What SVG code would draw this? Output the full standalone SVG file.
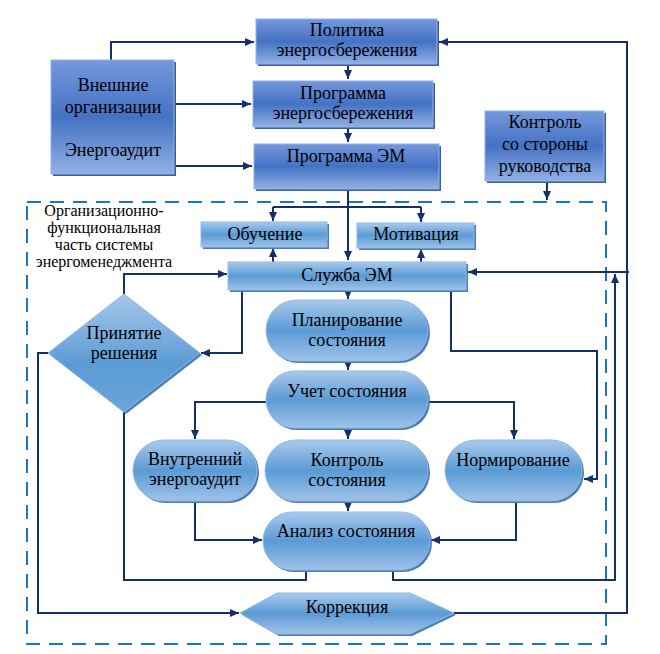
<svg xmlns="http://www.w3.org/2000/svg" width="660" height="654" viewBox="0 0 660 654">
<defs>
<linearGradient id="gDark" x1="0" y1="0" x2="0" y2="1">
<stop offset="0" stop-color="#7598dc"/>
<stop offset="0.5" stop-color="#4472c4"/>
<stop offset="1" stop-color="#92b0e4"/>
</linearGradient>
<linearGradient id="gLight" x1="0" y1="0" x2="0" y2="1">
<stop offset="0" stop-color="#a9c9ec"/>
<stop offset="0.5" stop-color="#5b9bd5"/>
<stop offset="1" stop-color="#9fc2e8"/>
</linearGradient>
<linearGradient id="gDiam" x1="0" y1="0" x2="0" y2="1">
<stop offset="0" stop-color="#a6c7ea"/>
<stop offset="0.6" stop-color="#5b9bd5"/>
<stop offset="1" stop-color="#6aa4da"/>
</linearGradient>
<marker id="arr" markerUnits="userSpaceOnUse" markerWidth="10" markerHeight="10" refX="9" refY="4" orient="auto">
<path d="M0,0 L9,4 L0,8 z" fill="#14306a"/>
</marker>
</defs>
<style>
text{font-family:"Liberation Serif","Times New Roman",serif;font-size:18px;fill:#000;text-anchor:middle}
.org{font-size:16px}
.dark{fill:url(#gDark);stroke:#8fb2ea;stroke-width:1}
.light{fill:url(#gLight);stroke:#8fbbe6;stroke-width:1}
.diam{fill:url(#gDiam);stroke:#8fbbe6;stroke-width:1}
.sh{fill:#3b5e94}
.sh2{fill:#4a7cb5}
.con path{fill:none;stroke:#14306a;stroke-width:2}
.con .a{marker-end:url(#arr)}
</style>
<rect x="27" y="202" width="579" height="442" fill="none" stroke="#1a75c9" stroke-width="2" stroke-dasharray="14 9"/>
<text class="org" x="104"><tspan x="104" y="216">Организационно-</tspan><tspan x="104" y="233">функциональная</tspan><tspan x="104" y="250">часть системы</tspan><tspan x="104" y="267">энергоменеджмента</tspan></text>
<g class="con">
<path d="M111,60 V42 H254" class="a"/>
<path d="M174,104 H251" class="a"/>
<path d="M174,166 H252" class="a"/>
<path d="M348,64 V79" class="a"/>
<path d="M348,127 V142" class="a"/>
<path d="M348,189 V260" class="a"/>
<path d="M273,207 H421"/>
<path d="M273,207 V221" class="a"/>
<path d="M421,207 V222" class="a"/>
<path d="M273,262 V248" class="a"/>
<path d="M421,262 V249" class="a"/>
<path d="M547,181 V200" class="a"/>
<path d="M454,613 H627 V42 H439" class="a"/>
<path d="M629,272 H468" class="a"/>
<path d="M393,568 V580 H615 V274" class="a"/>
<path d="M124,294 V274 H227" class="a"/>
<path d="M242,290 V353 H201" class="a"/>
<path d="M348,290 V299" class="a"/>
<path d="M348,361 V370" class="a"/>
<path d="M266,402 H195 V439" class="a"/>
<path d="M428,402 H514 V439" class="a"/>
<path d="M348,428 V439" class="a"/>
<path d="M348,501 V511" class="a"/>
<path d="M195,501 V540 H262" class="a"/>
<path d="M516,501 V540 H431" class="a"/>
<path d="M451,290 V351 H597 V479 H584" class="a"/>
<path d="M306,568 V580 H124 V412"/>
<path d="M48,353 H38 V613 H239" class="a"/>
</g>
<g id="politika"><rect class="sh" x="258" y="21" width="181" height="45"/><rect class="dark" x="256" y="19" width="181" height="45"/><text x="347" y="36">Политика</text><text x="347" y="56">энергосбережения</text></g>
<g id="programma"><rect class="sh" x="255" y="83" width="180" height="46"/><rect class="dark" x="253" y="81" width="180" height="46"/><text x="343" y="99">Программа</text><text x="343" y="119">энергосбережения</text></g>
<g id="programma-em"><rect class="sh" x="256" y="146" width="185" height="45"/><rect class="dark" x="254" y="144" width="185" height="45"/><text x="346" y="162">Программа ЭМ</text></g>
<g id="vneshnie"><rect class="sh" x="53" y="62" width="123" height="114"/><rect class="dark" x="51" y="60" width="123" height="114"/><text x="113" y="91">Внешние</text><text x="113" y="113">организации</text><text x="113" y="156">Энергоаудит</text></g>
<g id="kontrol-ruk"><rect class="sh" x="487" y="113" width="119" height="70"/><rect class="dark" x="485" y="111" width="119" height="70"/><text x="545" y="128">Контроль</text><text x="545" y="150">со стороны</text><text x="545" y="172">руководства</text></g>
<g id="obuchenie"><rect class="sh2" x="203" y="224" width="126" height="25"/><rect class="light" x="201" y="222" width="126" height="25"/><text x="265" y="240">Обучение</text></g>
<g id="motivaciya"><rect class="sh2" x="359" y="225" width="117" height="25"/><rect class="light" x="357" y="223" width="117" height="25"/><text x="416" y="240">Мотивация</text></g>
<g id="sluzhba"><rect class="sh2" x="230" y="264" width="238" height="28"/><rect class="light" x="228" y="262" width="238" height="28"/><text x="347" y="281">Служба ЭМ</text></g>
<g id="planirovanie"><rect class="sh2" x="268" y="302" width="162" height="61" rx="30.5"/><rect class="light" x="266" y="300" width="162" height="61" rx="30.5"/><text x="347" y="326">Планирование</text><text x="347" y="346">состояния</text></g>
<g id="uchet"><rect class="sh2" x="268" y="373" width="162" height="57" rx="28.5"/><rect class="light" x="266" y="371" width="162" height="57" rx="28.5"/><text x="347" y="397">Учет состояния</text></g>
<g id="vnutr"><rect class="sh2" x="135" y="442" width="124" height="61" rx="30.5"/><rect class="light" x="133" y="440" width="124" height="61" rx="30.5"/><text x="195" y="465">Внутренний</text><text x="195" y="485">энергоаудит</text></g>
<g id="kontrol-sost"><rect class="sh2" x="267" y="442" width="163" height="61" rx="30.5"/><rect class="light" x="265" y="440" width="163" height="61" rx="30.5"/><text x="347" y="466">Контроль</text><text x="347" y="486">состояния</text></g>
<g id="normirovanie"><rect class="sh2" x="447" y="442" width="137" height="61" rx="30.5"/><rect class="light" x="445" y="440" width="137" height="61" rx="30.5"/><text x="513" y="466">Нормирование</text></g>
<g id="analiz"><rect class="sh2" x="265" y="514" width="167" height="58" rx="29"/><rect class="light" x="263" y="512" width="167" height="58" rx="29"/><text x="346" y="537">Анализ состояния</text></g>
<g id="prinyatie"><polygon class="sh2" points="126,296 202,355 126,414 50,355"/><polygon class="diam" points="124,294 200,353 124,412 48,353"/><text x="124" y="339">Принятие</text><text x="124" y="359">решения</text></g>
<g id="korrekciya"><polygon class="sh2" points="242,615 279,595 412,595 456,615 412,636 279,636"/><polygon class="light" points="240,613 277,593 410,593 454,613 410,634 277,634"/><text x="347" y="613">Коррекция</text></g>
</svg>
